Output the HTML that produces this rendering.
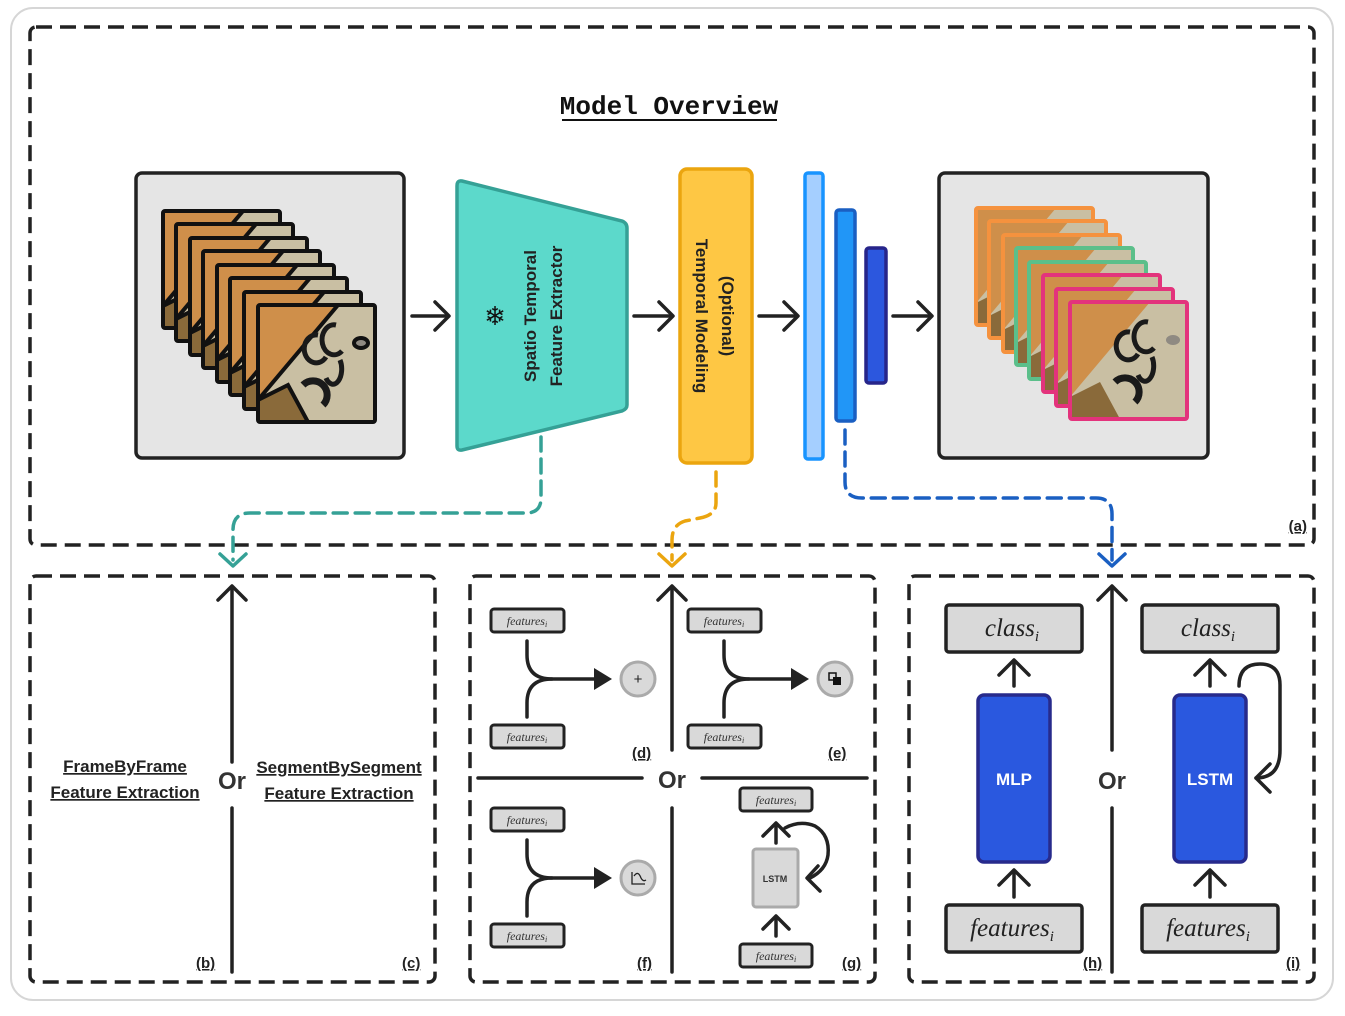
<!DOCTYPE html>
<html><head><meta charset="utf-8"><style>
html,body{margin:0;padding:0;background:#fff;}
svg{display:block;}
text{font-family:"Liberation Sans",sans-serif;}
text.mono,.mono text{font-family:"Liberation Mono",monospace;}
text.serif,.serif text{font-family:"Liberation Serif",serif;font-style:italic;}
</style></head><body>
<svg width="1345" height="1016" viewBox="0 0 1345 1016" xmlns="http://www.w3.org/2000/svg">
<defs>
<symbol id="img" viewBox="0 0 117 117">
<rect width="117" height="117" fill="#c9bfa3"/>
<polygon points="0,0 80,0 0,95" fill="#cf8f4a"/>
<polygon points="0,95 30,80 50,117 0,117" fill="#8a6a3a"/>
<path d="M60 30 a12 14 0 1 0 8 22" stroke="#1a1a1a" stroke-width="5" fill="none"/>
<path d="M78 20 a12 15 0 1 0 6 26" stroke="#1a1a1a" stroke-width="5" fill="none"/>
<path d="M82 55 a8 14 0 0 1 -14 18" stroke="#1a1a1a" stroke-width="5" fill="none"/>
<path d="M45 80 a10 10 0 0 1 20 20" stroke="#1a1a1a" stroke-width="7" fill="none"/>
<ellipse cx="103" cy="38" rx="7" ry="5" fill="#8f8a82"/>
</symbol>
</defs>

<rect x="11" y="8" width="1322" height="992" rx="22" fill="#fff" stroke="#d6d6d6" stroke-width="2"/>

<g fill="none" stroke="#222" stroke-width="3.5" stroke-dasharray="16 8">
<rect x="30" y="27" width="1284" height="518" rx="6"/>
<rect x="30" y="576" width="405" height="406" rx="6"/>
<rect x="470" y="576" width="405" height="406" rx="6"/>
<rect x="909" y="576" width="405" height="406" rx="6"/>
</g>

<text x="669" y="114" text-anchor="middle" class="mono" font-size="26" font-weight="bold" fill="#111">Model Overview</text>
<line x1="562" y1="120" x2="777" y2="120" stroke="#111" stroke-width="2"/>

<rect x="136" y="173" width="268" height="285" rx="6" fill="#e5e5e5" stroke="#222" stroke-width="3.5"/>
<g stroke="#111" stroke-width="4" fill="none">
<use href="#img" x="163" y="211" width="117" height="117"/><rect x="163" y="211" width="117" height="117" rx="2"/>
<use href="#img" x="176" y="224" width="117" height="117"/><rect x="176" y="224" width="117" height="117" rx="2"/>
<use href="#img" x="190" y="238" width="117" height="117"/><rect x="190" y="238" width="117" height="117" rx="2"/>
<use href="#img" x="203" y="251" width="117" height="117"/><rect x="203" y="251" width="117" height="117" rx="2"/>
<use href="#img" x="217" y="265" width="117" height="117"/><rect x="217" y="265" width="117" height="117" rx="2"/>
<use href="#img" x="230" y="278" width="117" height="117"/><rect x="230" y="278" width="117" height="117" rx="2"/>
<use href="#img" x="244" y="292" width="117" height="117"/><rect x="244" y="292" width="117" height="117" rx="2"/>
<use href="#img" x="258" y="305" width="117" height="117"/><rect x="258" y="305" width="117" height="117" rx="2"/>
</g>

<rect x="939" y="173" width="269" height="285" rx="6" fill="#e5e5e5" stroke="#222" stroke-width="3.5"/>
<g stroke-width="4" fill="none">
<use href="#img" x="976" y="208" width="117" height="117"/><rect x="976" y="208" width="117" height="117" rx="2" stroke="#f5923e"/>
<use href="#img" x="989" y="221" width="117" height="117"/><rect x="989" y="221" width="117" height="117" rx="2" stroke="#f5923e"/>
<use href="#img" x="1003" y="235" width="117" height="117"/><rect x="1003" y="235" width="117" height="117" rx="2" stroke="#f5923e"/>
<use href="#img" x="1016" y="248" width="117" height="117"/><rect x="1016" y="248" width="117" height="117" rx="2" stroke="#5bbf8a"/>
<use href="#img" x="1029" y="262" width="117" height="117"/><rect x="1029" y="262" width="117" height="117" rx="2" stroke="#5bbf8a"/>
<use href="#img" x="1043" y="275" width="117" height="117"/><rect x="1043" y="275" width="117" height="117" rx="2" stroke="#e3337c"/>
<use href="#img" x="1056" y="289" width="117" height="117"/><rect x="1056" y="289" width="117" height="117" rx="2" stroke="#e3337c"/>
<use href="#img" x="1070" y="302" width="117" height="117"/><rect x="1070" y="302" width="117" height="117" rx="2" stroke="#e3337c"/>
</g>

<g stroke="#222" stroke-width="3.5" fill="none" stroke-linecap="round" stroke-linejoin="round">
<line x1="412" y1="316" x2="448" y2="316"/><polyline points="435,302 449,316 435,330"/>
<line x1="634" y1="316" x2="672" y2="316"/><polyline points="659,302 673,316 659,330"/>
<line x1="759" y1="316" x2="797" y2="316"/><polyline points="784,302 798,316 784,330"/>
<line x1="893" y1="316" x2="931" y2="316"/><polyline points="918,302 932,316 918,330"/>
</g>

<path d="M462 181 L622 221 Q627 223 627 228 L627 405 Q627 409 622 411 L462 450 Q457 451 457 446 L457 186 Q457 180 462 181Z" fill="#5cd9cb" stroke="#35a196" stroke-width="3.5"/>
<text x="495" y="325" text-anchor="middle" font-size="26" fill="#111">❄</text>
<g transform="translate(536,316) rotate(-90)"><text x="0" y="0" text-anchor="middle" font-size="17" font-weight="bold" fill="#222">Spatio Temporal</text></g>
<g transform="translate(562,316) rotate(-90)"><text x="0" y="0" text-anchor="middle" font-size="17" font-weight="bold" fill="#222">Feature Extractor</text></g>

<rect x="680" y="169" width="72" height="294" rx="7" fill="#fec744" stroke="#eba50f" stroke-width="3.5"/>
<g transform="translate(722,316) rotate(90)"><text x="0" y="0" text-anchor="middle" font-size="17" font-weight="bold" fill="#222">(Optional)</text></g>
<g transform="translate(696,316) rotate(90)"><text x="0" y="0" text-anchor="middle" font-size="17" font-weight="bold" fill="#222">Temporal Modeling</text></g>

<rect x="805" y="173" width="18" height="286" rx="3" fill="#a5cfff" stroke="#1894ff" stroke-width="3.5"/>
<rect x="836" y="210" width="19" height="211" rx="3" fill="#2196f7" stroke="#1a5fc2" stroke-width="3.5"/>
<rect x="866" y="248" width="20" height="135" rx="3" fill="#2c57de" stroke="#27258a" stroke-width="3.5"/>

<g fill="none" stroke-width="3.5" stroke-dasharray="14 8" stroke-linecap="round">
<path d="M541 437 L541 498 Q541 513 526 513 L250 513 Q233 513 233 530 L233 560" stroke="#35a196"/>
<path d="M716 472 L716 503 Q716 515 700 518 L685 521 Q672 525 672 540 L672 560" stroke="#eba50f"/>
<path d="M845 430 L845 482 Q845 498 862 498 L1096 498 Q1112 498 1112 514 L1112 560" stroke="#1a5fc2"/>
</g>
<g fill="none" stroke-width="3.5" stroke-linecap="round" stroke-linejoin="round">
<polyline points="220,554 233,566 246,554" stroke="#35a196"/>
<polyline points="659,554 672,566 685,554" stroke="#eba50f"/>
<polyline points="1099,554 1112,566 1125,554" stroke="#1a5fc2"/>
</g>
<text x="1307" y="531" text-anchor="end" font-size="15" font-weight="bold" fill="#222" text-decoration="underline">(a)</text>

<g stroke="#222" stroke-width="3.5" fill="none" stroke-linecap="round" stroke-linejoin="round">
<line x1="232" y1="587" x2="232" y2="762"/><polyline points="218,600 232,586 246,600"/>
<line x1="232" y1="808" x2="232" y2="972"/>
</g>
<text x="232" y="789" text-anchor="middle" font-size="24" font-weight="bold" fill="#333">Or</text>
<g font-size="17" font-weight="bold" fill="#222" text-anchor="middle" text-decoration="underline">
<text x="125" y="772">FrameByFrame</text>
<text x="125" y="798">Feature Extraction</text>
<text x="339" y="773">SegmentBySegment</text>
<text x="339" y="799">Feature Extraction</text>
</g>
<g font-size="15" font-weight="bold" fill="#222" text-decoration="underline">
<text x="196" y="968">(b)</text><text x="402" y="968">(c)</text>
<text x="632" y="758">(d)</text><text x="828" y="758">(e)</text>
<text x="637" y="968">(f)</text><text x="842" y="968">(g)</text>
<text x="1083" y="968">(h)</text><text x="1286" y="968">(i)</text>
</g>

<g stroke="#222" stroke-width="3.5" fill="none" stroke-linecap="round" stroke-linejoin="round">
<line x1="672" y1="587" x2="672" y2="750"/><polyline points="658,600 672,586 686,600"/>
<line x1="672" y1="808" x2="672" y2="972"/>
<line x1="478" y1="778" x2="642" y2="778"/><line x1="702" y1="778" x2="867" y2="778"/>
</g>
<text x="672" y="788" text-anchor="middle" font-size="24" font-weight="bold" fill="#333">Or</text>

<g id="fk">
<g stroke="#222" stroke-width="3.5" fill="none" stroke-linecap="round">
<path d="M527 641 L527 655 Q527 679 552 679 L596 679"/>
<path d="M527 717 L527 703 Q527 679 552 679"/>
</g>
<polygon points="594,668 612,679 594,690" fill="#222"/>
<rect x="491" y="609" width="73" height="23" rx="3" fill="#d9d9d9" stroke="#222" stroke-width="3"/>
<rect x="491" y="725" width="73" height="23" rx="3" fill="#d9d9d9" stroke="#222" stroke-width="3"/>
<circle cx="638" cy="679" r="17" fill="#d9d9d9" stroke="#aaa" stroke-width="3"/>
</g>
<use href="#fk" x="197" y="0"/>
<use href="#fk" x="0" y="199"/>
<g class="serif" font-size="12" fill="#333" text-anchor="middle">
<text x="527" y="625">features<tspan font-size="8" dy="2">i</tspan></text>
<text x="527" y="741">features<tspan font-size="8" dy="2">i</tspan></text>
<text x="724" y="625">features<tspan font-size="8" dy="2">i</tspan></text>
<text x="724" y="741">features<tspan font-size="8" dy="2">i</tspan></text>
<text x="527" y="824">features<tspan font-size="8" dy="2">i</tspan></text>
<text x="527" y="940">features<tspan font-size="8" dy="2">i</tspan></text>
</g>
<text x="638" y="684" text-anchor="middle" font-size="15" fill="#222">+</text>
<rect x="829" y="673" width="7" height="7" fill="none" stroke="#111" stroke-width="1.5"/><rect x="833" y="677" width="8" height="8" fill="#111"/>
<path d="M632 872 L632 884 L645 884 M634 876 Q638 870 641 878 Q643 882 646 880" stroke="#222" stroke-width="1.3" fill="none"/>

<rect x="740" y="788" width="72" height="23" rx="3" fill="#d9d9d9" stroke="#222" stroke-width="3"/>
<rect x="740" y="944" width="72" height="23" rx="3" fill="#d9d9d9" stroke="#222" stroke-width="3"/>
<text x="776" y="804" text-anchor="middle" class="serif" font-size="12" fill="#333">features<tspan font-size="8" dy="2">i</tspan></text>
<text x="776" y="960" text-anchor="middle" class="serif" font-size="12" fill="#333">features<tspan font-size="8" dy="2">i</tspan></text>
<rect x="753" y="849" width="45" height="58" rx="3" fill="#d9d9d9" stroke="#aaa" stroke-width="3"/>
<text x="775" y="882" text-anchor="middle" font-size="9" font-weight="bold" fill="#333">LSTM</text>
<g stroke="#222" stroke-width="3.5" fill="none" stroke-linecap="round" stroke-linejoin="round">
<line x1="776" y1="843" x2="776" y2="825"/><polyline points="763,836 776,823 789,836"/>
<line x1="776" y1="936" x2="776" y2="917"/><polyline points="763,929 776,916 789,929"/>
<path d="M785 828 Q800 820 815 826 Q830 835 828 855 Q826 870 810 878"/>
<polyline points="818,866 807,878 820,891"/>
</g>

<g stroke="#222" stroke-width="3.5" fill="none" stroke-linecap="round" stroke-linejoin="round">
<line x1="1112" y1="587" x2="1112" y2="750"/><polyline points="1098,600 1112,586 1126,600"/>
<line x1="1112" y1="808" x2="1112" y2="972"/>
</g>
<text x="1112" y="789" text-anchor="middle" font-size="24" font-weight="bold" fill="#333">Or</text>

<g stroke="#222" stroke-width="3.5">
<rect x="946" y="605" width="136" height="47" rx="3" fill="#d9d9d9"/>
<rect x="1142" y="605" width="136" height="47" rx="3" fill="#d9d9d9"/>
<rect x="946" y="905" width="136" height="47" rx="3" fill="#d9d9d9"/>
<rect x="1142" y="905" width="136" height="47" rx="3" fill="#d9d9d9"/>
</g>
<rect x="978" y="695" width="72" height="167" rx="6" fill="#2a58df" stroke="#272a8c" stroke-width="3.5"/>
<rect x="1174" y="695" width="72" height="167" rx="6" fill="#2a58df" stroke="#272a8c" stroke-width="3.5"/>
<text x="1014" y="785" text-anchor="middle" font-size="17" font-weight="bold" fill="#fff">MLP</text>
<text x="1210" y="785" text-anchor="middle" font-size="17" font-weight="bold" fill="#fff">LSTM</text>
<g class="serif" font-size="25" fill="#222" text-anchor="middle">
<text x="1012" y="636">class<tspan font-size="15" dy="5">i</tspan></text>
<text x="1208" y="636">class<tspan font-size="15" dy="5">i</tspan></text>
<text x="1012" y="936">features<tspan font-size="15" dy="5">i</tspan></text>
<text x="1208" y="936">features<tspan font-size="15" dy="5">i</tspan></text>
</g>
<g stroke="#222" stroke-width="3.5" fill="none" stroke-linecap="round" stroke-linejoin="round">
<line x1="1014" y1="686" x2="1014" y2="662"/><polyline points="999,675 1014,660 1029,675"/>
<line x1="1014" y1="897" x2="1014" y2="872"/><polyline points="999,885 1014,870 1029,885"/>
<line x1="1210" y1="686" x2="1210" y2="662"/><polyline points="1195,675 1210,660 1225,675"/>
<line x1="1210" y1="897" x2="1210" y2="872"/><polyline points="1195,885 1210,870 1225,885"/>
<path d="M1239 686 Q1239 664 1260 664 Q1280 664 1280 685 L1280 750 Q1280 778 1256 778"/>
<polyline points="1270,764 1256,778 1270,792"/>
</g>
</svg>
</body></html>
